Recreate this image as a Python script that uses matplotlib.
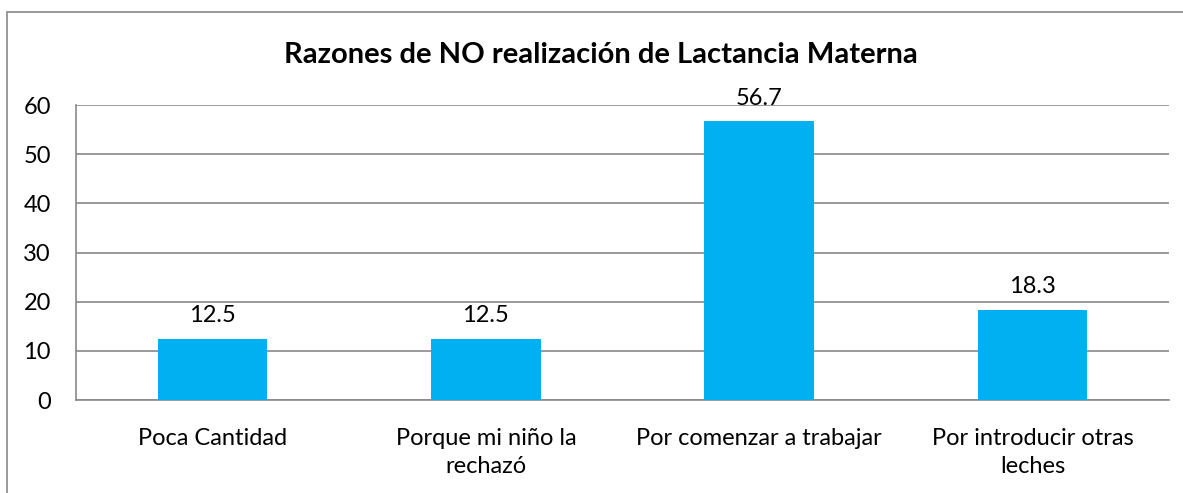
import matplotlib.pyplot as plt
from matplotlib.patches import Rectangle

categories = ["Poca Cantidad", "Porque mi niño la\nrechazó",
              "Por comenzar a trabajar", "Por introducir otras\nleches"]
values = [12.5, 12.5, 56.7, 18.3]
yticks = [0, 10, 20, 30, 40, 50, 60]

plt.rcParams['font.family'] = ['Lato', 'DejaVu Sans']

fig = plt.figure(figsize=(11.83, 4.93), dpi=100)
ax = fig.add_axes([0.0642, 0.1886, 0.924, 0.598])

x = range(len(categories))
bars = ax.bar(x, values, width=0.4, color="#00B0F0", zorder=3)
for rect, v in zip(bars, values):
    ax.text(rect.get_x() + rect.get_width() / 2., v + 2.6, '%.1f' % v,
            ha='center', va='bottom', fontsize=17, color="black")

ax.set_xlim(-0.5, len(categories) - 0.5)
ax.set_ylim(0, 60)
ax.set_yticks(yticks)
ax.set_xticks(list(x))
ax.set_xticklabels(categories, fontsize=17, linespacing=1.45)
ax.tick_params(axis='y', labelsize=17, length=0, pad=18)
ax.tick_params(axis='x', length=0, pad=20)
ax.grid(axis='y', color="#898989", linewidth=1.2, zorder=0)
for s in ["top", "right"]:
    ax.spines[s].set_visible(False)
for s in ["left", "bottom"]:
    ax.spines[s].set_color("#898989")
    ax.spines[s].set_linewidth(1.2)

fig.text(0.508, 0.888, "Razones de NO realización de Lactancia Materna",
         ha='center', va='center', fontsize=21, fontweight='bold')

# outer chart border
fig.patches.append(Rectangle((0.006, -0.1), 1.1, 1.0757, transform=fig.transFigure,
                             fill=False, edgecolor="#898989", linewidth=1.2))

plt.savefig("out.png", dpi=100)
